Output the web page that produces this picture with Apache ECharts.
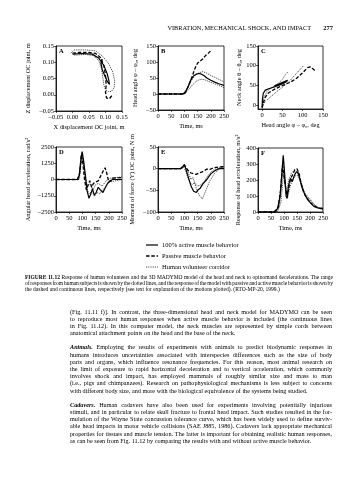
<!DOCTYPE html>
<html><head><meta charset="utf-8">
<script src="https://cdn.jsdelivr.net/npm/echarts@6/dist/echarts.min.js"></script>
<style>html,body{margin:0;padding:0;background:#fff}#c{width:356px;height:480px}</style>
</head><body><div id="c"></div>
<script>
// ---------- DATA ----------
// Panel A: X vs Z displacement of OC joint (m)
const aActive   = [[0.000,0.125],[0.030,0.127],[0.060,0.125],[0.080,0.112],[0.095,0.090],[0.105,0.065],[0.110,0.045],[0.112,0.032],[0.106,0.040],[0.098,0.058],[0.090,0.078],[0.086,0.098],[0.090,0.110]];
const aPassive  = [[0.000,0.128],[0.020,0.130],[0.050,0.130],[0.070,0.127],[0.085,0.114],[0.095,0.090],[0.100,0.060],[0.102,0.030],[0.100,0.008],[0.103,-0.010],[0.112,-0.012],[0.119,-0.003]];
const aCorrUp   = [[-0.005,0.128],[0.005,0.138],[0.040,0.138],[0.070,0.135],[0.090,0.120],[0.110,0.095],[0.122,0.070],[0.128,0.042],[0.126,0.022],[0.118,0.010],[0.108,0.010]];
const aCorrLow  = [[0.005,0.122],[0.040,0.124],[0.065,0.120],[0.080,0.104],[0.088,0.080],[0.092,0.052],[0.095,0.030],[0.100,0.016],[0.108,0.010]];
// Panel B: head angle (deg) vs time (ms)
const bActive   = [[0,0],[95,0],[105,8],[115,25],[125,45],[135,57],[145,62],[155,64],[165,62],[175,57],[185,50],[200,43],[215,37],[230,32],[250,27]];
const bPassive  = [[0,0],[100,0],[110,15],[125,45],[140,80],[150,97],[160,103],[170,110],[180,120],[190,127],[200,135]];
const bCorrUp   = [[0,0],[95,0],[110,15],[125,40],[140,58],[155,66],[170,70],[185,65],[200,58],[225,48],[250,38]];
const bCorrLow  = [[0,0],[100,0],[115,12],[130,28],[145,40],[160,46],[175,45],[190,40],[210,33],[230,27],[250,20]];
// Panel C: neck angle vs head angle (deg)
const cActive   = [[0,-5],[1,15],[3,30],[8,38],[18,42],[30,46],[45,52],[58,58],[63,63],[58,61],[45,55],[30,48]];
const cPassive  = [[0,-8],[3,5],[8,20],[15,30],[25,37],[40,45],[55,52],[70,58],[85,68],[100,82],[112,95],[118,97],[125,92],[133,85]];
const cCorrUp   = [[0,-5],[5,20],[12,35],[25,45],[40,55],[50,65],[58,78],[62,82],[64,85]];
const cCorrLow  = [[0,-5],[8,10],[20,20],[35,33],[50,45],[65,58],[80,75],[95,92],[102,100]];
// Panel D: angular head acceleration (rad/s2) vs time
const dActive   = [[0,0],[80,0],[88,300],[95,1700],[99,2150],[105,1400],[112,200],[118,-900],[125,-1450],[132,-1100],[138,-700],[145,-1200],[152,-1000],[160,-600],[168,-800],[178,-1000],[185,-700],[195,-300],[205,-100],[215,0],[250,0]];
const dPassive  = [[0,0],[82,0],[90,500],[96,1900],[102,1200],[108,0],[115,-800],[122,-400],[128,-100],[135,-600],[142,-300],[150,-200],[160,-100],[170,300],[180,700],[186,900],[192,500],[200,-200],[208,-100],[215,100],[250,150]];
const dCorrUp   = [[0,0],[85,0],[92,900],[98,1800],[104,1300],[112,0],[120,-500],[130,-300],[140,-800],[150,-400],[160,-300],[175,-500],[190,-100],[205,100],[250,200]];
const dCorrLow  = [[0,0],[88,0],[95,1200],[101,1600],[108,600],[116,-700],[126,-1100],[136,-900],[146,-1300],[156,-1000],[166,-1100],[176,-800],[188,-600],[200,-200],[250,0]];
// Panel E: moment of force (N m) vs time
const eActive   = [[0,0],[85,0],[95,5],[100,10],[105,0],[115,-20],[125,-40],[135,-52],[145,-55],[150,-50],[160,-45],[170,-35],[185,-25],[200,-12],[215,-5],[230,0],[250,0]];
const ePassive  = [[0,0],[85,0],[95,3],[100,8],[107,2],[115,-5],[125,-10],[135,-12],[145,-13],[155,-10],[165,-8],[175,-5],[185,-1],[195,-2],[210,2],[230,4],[250,5]];
const eCorrUp   = [[0,0],[85,0],[95,8],[105,3],[115,-10],[125,-25],[132,-20],[140,-35],[150,-40],[160,-38],[175,-30],[190,-15],[210,-3],[230,2],[250,3]];
const eCorrLow  = [[0,0],[85,0],[95,5],[105,-5],[115,-25],[128,-38],[138,-32],[145,-45],[155,-60],[168,-70],[178,-55],[195,-30],[215,-10],[235,0],[250,5]];
// Panel F: head acceleration (m/s2) vs time
const fActive   = [[0,0],[60,0],[75,20],[85,100],[92,250],[97,355],[102,250],[108,100],[112,85],[118,170],[125,210],[132,190],[140,230],[147,250],[155,245],[162,200],[170,150],[180,110],[190,80],[200,60],[215,35],[230,25],[250,20]];
const fPassive  = [[0,0],[65,0],[78,30],[88,150],[94,290],[98,300],[104,180],[110,110],[116,130],[124,200],[132,230],[142,265],[150,270],[158,240],[166,180],[176,120],[186,90],[196,70],[210,45],[225,30],[240,22],[250,25]];
const fCorrUp   = [[0,0],[70,0],[82,40],[92,200],[98,330],[104,180],[110,120],[118,200],[128,240],[138,260],[148,255],[158,220],[168,170],[180,120],[192,95],[205,70],[220,40],[235,25],[250,25]];
const fCorrLow  = [[0,0],[75,0],[88,60],[96,200],[100,260],[106,140],[114,90],[122,150],[132,200],[142,225],[152,230],[160,200],[172,140],[184,100],[196,80],[210,55],[225,35],[240,20],[250,15]];

// tick values
const dispTicks  = [-0.05,0,0.05,0.10,0.15];
const timeTicks  = [0,50,100,150,200,250];
const angleTicksB= [-50,0,50,100,150];
const angleTicksC= [0,50,100,150];
const accTicksD  = [-2500,-1250,0,1250,2500];
const momTicksE  = [-100,-50,0,50];
const accTicksF  = [0,100,200,300,400];

const panelLetters = ['A','B','C','D','E','F'];
const legendNames = ['100% active muscle behavior','Passive muscle behavior','Human volunteer corridor'];
const yTitles = ['Z displacement OC joint, m','Head angle \u03c6 \u2013 \u03c6\u2080, deg','Neck angle \u03b8 \u2013 \u03b8\u2080, deg','Angular head acceleration, rad/s\u00b2','Moment of force (Y) OC joint, N m','Response of head acceleration, m/s\u00b2'];
const xTitles = ['X displacement OC joint, m','Time, ms','Head angle \u03c6 \u2013 \u03c6\u2080, deg','Time, ms','Time, ms','Time, ms'];
const headerText = 'VIBRATION, MECHANICAL SHOCK, AND IMPACT';
const pageNumber = '277';
const captionLines = [
 [['FIGURE 11.12','b'],['  Response of human volunteers and the 3D MADYMO model of the head and neck to opinomand decelerations. The range','n']],
 [['of responses from human subjects is shown by the dotted lines, and the response of the model with passive and active muscle behavior is shown by','n']],
 [['the dashed and continuous lines, respectively (see text for explanation of the motions plotted). (RTO-MP-20, 1999.)','n']]
];
const bodyLines = [
 [['(Fig. 11.11 f)]. In contrast, the three-dimensional head and neck model for MADYMO can be seen','n']],
 [['to reproduce most human responses when active muscle behavior is included (the continuous lines','n']],
 [['in Fig. 11.12). In this computer model, the neck muscles are represented by simple cords between','n']],
 [['anatomical attachment points on the head and the base of the neck.','n']],
 null,
 [['Animals.','bi'],['  Employing the results of experiments with animals to predict biodynamic responses in','n']],
 [['humans introduces uncertainties associated with interspecies differences such as the size of body','n']],
 [['parts and organs, which influence resonance frequencies. For this reason, most animal research on','n']],
 [['the limit of exposure to rapid horizontal deceleration and to vertical acceleration, which commonly','n']],
 [['involves shock and impact, has employed mammals of roughly similar size and mass to man','n']],
 [['(i.e., pigs and chimpanzees). Research on pathophysiological mechanisms is less subject to concerns','n']],
 [['with different body size, and more with the biological equivalence of the systems being studied.','n']],
 null,
 [['Cadavers.','bi'],['  Human cadavers have also been used for experiments involving potentially injurious','n']],
 [['stimuli, and in particular to relate skull fracture to frontal head impact. Such studies resulted in the for-','n']],
 [['mulation of the Wayne State concussion tolerance curve, which has been widely used to define surviv-','n']],
 [['able head impacts in motor vehicle collisions (SAE J885, 1986). Cadavers lack appropriate mechanical','n']],
 [['properties for tissues and muscle tension. The latter is important for obtaining realistic human responses,','n']],
 [['as can be seen from Fig. 11.12 by comparing the results with and without active muscle behavior.','n']]
];
const raggedLines = [3, 11, 18];

// ---------- LAYOUT ----------
const FF = '"Liberation Serif","Times New Roman",serif';
const grids = [
 {left:56, top:46, width:66, height:65},
 {left:158,top:46, width:66, height:64},
 {left:258,top:46, width:65, height:63},
 {left:56, top:147,width:66, height:65},
 {left:158,top:147,width:66, height:65},
 {left:258,top:148,width:65, height:64}
];
const twoDec = v=>v.toFixed(2).replace('-','\u2013');
const minusFmt = v => String(v).replace('-','\u2013');
const xAx = [
 {min:-0.05,max:0.15,ticks:dispTicks,fmt:twoDec},
 {min:0,max:250,ticks:timeTicks},
 {min:-10,max:150,ticks:angleTicksC},
 {min:0,max:250,ticks:timeTicks},
 {min:0,max:250,ticks:timeTicks},
 {min:0,max:250,ticks:timeTicks}
];
const yAx = [
 {min:-0.05,max:0.15,ticks:dispTicks,fmt:twoDec,gap:25},
 {min:-50,max:150,ticks:angleTicksB,gap:20},
 {min:-10,max:150,ticks:angleTicksC,gap:16},
 {min:-2500,max:2500,ticks:accTicksD,gap:25},
 {min:-100,max:50,ticks:momTicksE,gap:23},
 {min:0,max:400,ticks:accTicksF,gap:17}
];
const seriesSets = [
 [aActive,aPassive,aCorrUp,aCorrLow],
 [bActive,bPassive,bCorrUp,bCorrLow],
 [cActive,cPassive,cCorrUp,cCorrLow],
 [dActive,dPassive,dCorrUp,dCorrLow],
 [eActive,ePassive,eCorrUp,eCorrLow],
 [fActive,fPassive,fCorrUp,fCorrLow]
];
const lineStyles = [
 {color:'#000',width:1.2,type:'solid'},
 {color:'#000',width:1.3,type:[3.5,1.8]},
 {color:'#222',width:0.8,type:[1.2,1]},
 {color:'#222',width:0.8,type:[1.2,1]}
];
const seriesNames = [legendNames[0],legendNames[1],legendNames[2],legendNames[2]];
const lab = {fontFamily:FF,fontSize:6.5,color:'#000'};

const option = {
 animation:false,
 backgroundColor:'#fff',
 grid: grids.map(g=>Object.assign({show:true,borderColor:'#000',borderWidth:0.8,backgroundColor:'transparent'},g)),
 xAxis: xAx.map((a,i)=>({type:'value',gridIndex:i,min:a.min,max:a.max,
   name:xTitles[i],nameLocation:'middle',nameGap:13,nameTextStyle:{fontFamily:FF,fontSize:6.3,color:'#000'},
   axisLine:{show:true,onZero:false,lineStyle:{color:'#000',width:0.8}},
   axisTick:{show:true,inside:false,length:2,customValues:a.ticks,lineStyle:{color:'#000',width:0.6}},
   splitLine:{show:false},
   axisLabel:Object.assign({margin:3,customValues:a.ticks,formatter:a.fmt||minusFmt},lab)})),
 yAxis: yAx.map((a,i)=>({type:'value',gridIndex:i,min:a.min,max:a.max,
   name:yTitles[i],nameLocation:'middle',nameRotate:90,nameGap:a.gap,nameTextStyle:{fontFamily:FF,fontSize:6.3,color:'#000'},
   axisLine:{show:true,onZero:false,lineStyle:{color:'#000',width:0.8}},
   axisTick:{show:true,inside:false,length:2,customValues:a.ticks,lineStyle:{color:'#000',width:0.6}},
   splitLine:{show:false},
   axisLabel:Object.assign({margin:2,customValues:a.ticks,formatter:a.fmt||minusFmt},lab)})),
 series:[],
 graphic:{elements:[]}
};

seriesSets.forEach((set,gi)=>{
 set.forEach((d,k)=>{
  option.series.push({type:'line',name:seriesNames[k],xAxisIndex:gi,yAxisIndex:gi,data:d,
   showSymbol:false,symbol:'none',smooth:false,silent:true,lineStyle:lineStyles[k],itemStyle:{color:lineStyles[k].color},z:k<2?3:2});
 });
});

const els = option.graphic.elements;
grids.forEach((g,i)=>{
 els.push({type:'text',x:g.left+3,y:g.top+2,style:{text:panelLetters[i],font:'bold 6.5px '+FF,fill:'#000',verticalAlign:'top'}});
});
// legend (drawn manually)
[0,1,2].forEach(k=>{
 const y = 245 + k*11;
 els.push({type:'line',shape:{x1:146,y1:y,x2:158,y2:y},style:{stroke:lineStyles[k].color,lineWidth:lineStyles[k].width,lineDash:lineStyles[k].type==='solid'?null:lineStyles[k].type}});
 els.push({type:'text',x:162,y:y,style:{text:legendNames[k],font:'6.5px '+FF,fill:'#000',verticalAlign:'middle'}});
});
// header
els.push({type:'text',x:311,y:28,style:{text:headerText,font:'6.3px '+FF,fill:'#000',align:'right',verticalAlign:'middle'}});
els.push({type:'text',x:333,y:28,style:{text:pageNumber,font:'bold 6.5px '+FF,fill:'#000',align:'right',verticalAlign:'middle'}});

// justified text helper
const mc = document.createElement('canvas').getContext('2d');
function fontOf(st,size){return (st==='bi'?'italic bold ':st==='b'?'bold ':'')+size+'px '+FF;}
function layLine(runs,x0,x1,y,size,justify){
 const words=[];
 runs.forEach(([t,st])=>{t.trim().split(/\s+/).forEach(w=>{if(w)words.push({w,st});});});
 let sum=0; words.forEach(o=>{mc.font=fontOf(o.st,size);o.wd=mc.measureText(o.w).width;sum+=o.wd;});
 mc.font=fontOf('n',size); const sp=mc.measureText(' ').width;
 const gap = justify && words.length>1 ? (x1-x0-sum)/(words.length-1) : sp;
 let x=x0;
 words.forEach(o=>{
  els.push({type:'text',x:x,y:y,style:{text:o.w,font:fontOf(o.st,size),fill:'#000',verticalAlign:'middle'}});
  x+=o.wd+gap;
 });
}
captionLines.forEach((ln,i)=>layLine(ln,25,333,278+i*6,5.5,i<2));
bodyLines.forEach((ln,i)=>{ if(ln) layLine(ln,70,332,312+i*7.17,6.2,raggedLines.indexOf(i)<0); });

const chart = echarts.init(document.getElementById('c'),null,{renderer:'canvas'});
chart.setOption(option);
</script></body></html>
